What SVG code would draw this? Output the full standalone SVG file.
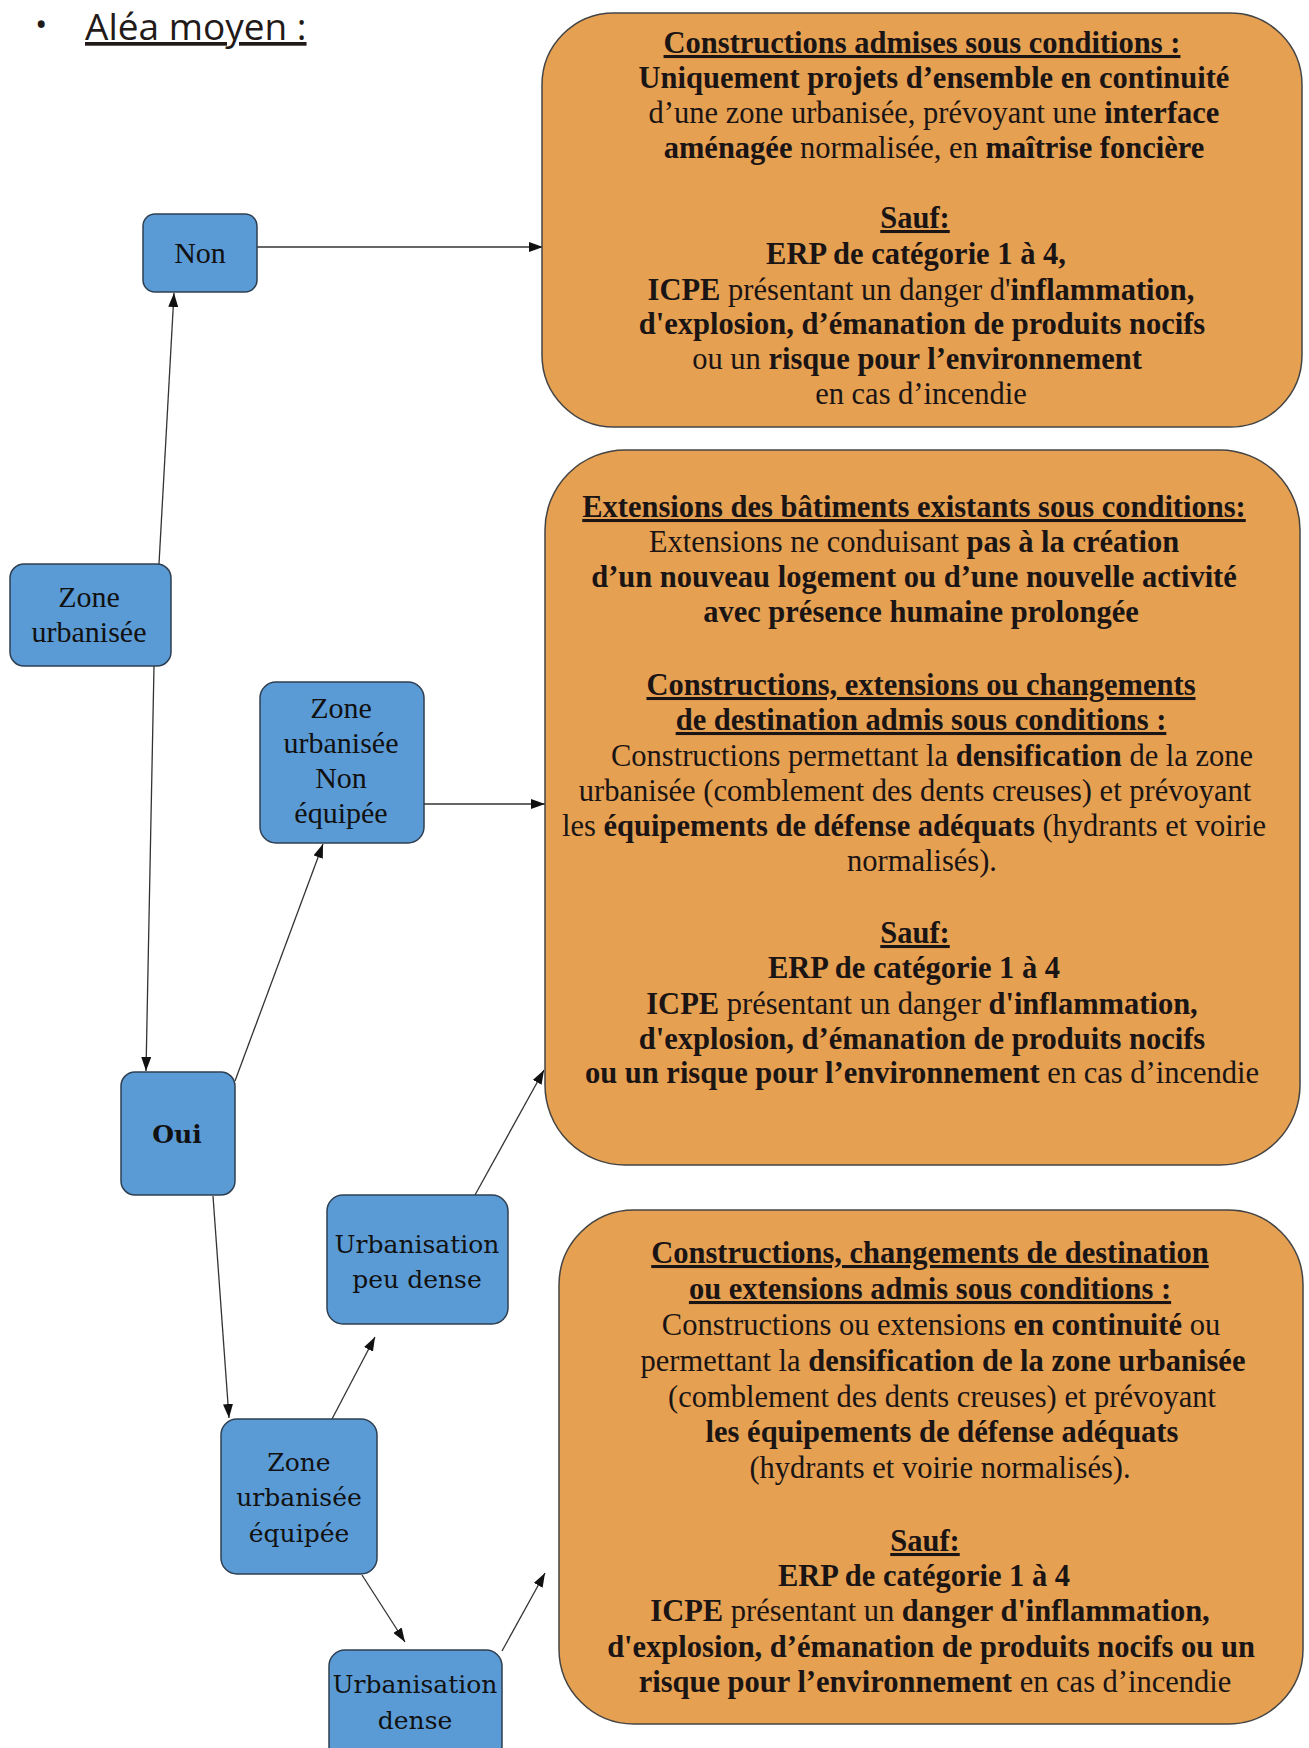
<svg xmlns="http://www.w3.org/2000/svg" width="1309" height="1748" viewBox="0 0 1309 1748">
<defs>
<style>
.t{font-family:"Liberation Serif","Times New Roman",serif;font-size:30.5px;fill:#1a1414;text-anchor:middle}
.b{font-weight:bold}
.u{text-decoration:underline}
.node rect{fill:#5b9bd5;stroke:#2e3f52;stroke-width:1.5}
.nt{font-family:"Liberation Serif","Times New Roman",serif;font-size:30px;text-anchor:middle;fill:#111}
.nt2{font-family:"DejaVu Serif",serif;font-size:25px;text-anchor:middle;fill:#111}
.box{fill:#e5a052;stroke:#444;stroke-width:1.5}
.c{stroke:#333;stroke-width:1.3;fill:none;marker-end:url(#ah)}
.title{font-family:"Open Sans","DejaVu Sans",sans-serif;font-size:37px;fill:#221a18}
</style>
<marker id="ah" viewBox="0 0 14 10" refX="14" refY="5" markerWidth="14" markerHeight="10" markerUnits="userSpaceOnUse" orient="auto"><path d="M0,0 L14,5 L0,10 z" fill="#111"/></marker>
</defs>
<rect width="1309" height="1748" fill="#ffffff"/>

<g id="title">
<text class="title" y="40"><tspan x="35" font-size="33" dy="-4">•</tspan><tspan x="85" dy="4" class="u">Aléa moyen :</tspan></text>
</g>

<g id="connectors">
<path class="c" d="M159,564 L174,293"/>
<path class="c" d="M257,247 L543,247"/>
<path class="c" d="M154,666 L146,1071"/>
<path class="c" d="M235,1081 L323,844"/>
<path class="c" d="M424,804 L545,804"/>
<path class="c" d="M213,1196 L229,1418"/>
<path class="c" d="M332,1419 L375,1337"/>
<path class="c" d="M475,1195 L544,1070"/>
<path class="c" d="M362,1575 L405,1642"/>
<path class="c" d="M502,1651 L545,1573"/>
</g>

<g id="box1">
<rect class="box" x="542" y="13" width="760" height="414" rx="72" ry="72"/>
<text class="t" y="53" x="922"><tspan class="b u">Constructions admises sous conditions :</tspan></text>
<text class="t b" y="88" x="934">Uniquement projets d’ensemble en continuité</text>
<text class="t" y="123" x="934">d’une zone urbanisée, prévoyant une <tspan class="b">interface</tspan></text>
<text class="t" y="158" x="934"><tspan class="b">aménagée</tspan> normalisée, en <tspan class="b">maîtrise foncière</tspan></text>
<text class="t b u" y="228" x="915">Sauf:</text>
<text class="t b" y="264" x="916">ERP de catégorie 1 à 4,</text>
<text class="t" y="300" x="921"><tspan class="b">ICPE</tspan> présentant un danger d'<tspan class="b">inflammation,</tspan></text>
<text class="t b" y="334" x="922">d'explosion, d’émanation de produits nocifs</text>
<text class="t" y="369" x="917">ou un <tspan class="b">risque pour l’environnement</tspan></text>
<text class="t" y="404" x="921">en cas d’incendie</text>
</g>

<g id="box2">
<rect class="box" x="545" y="450" width="755" height="715" rx="80" ry="80"/>
<text class="t b u" y="517" x="914">Extensions des bâtiments existants sous conditions:</text>
<text class="t" y="552" x="914">Extensions ne conduisant <tspan class="b">pas à la création</tspan></text>
<text class="t b" y="587" x="914">d’un nouveau logement ou d’une nouvelle activité</text>
<text class="t b" y="622" x="921">avec présence humaine prolongée</text>
<text class="t b u" y="695" x="921">Constructions, extensions ou changements</text>
<text class="t b u" y="730" x="921">de destination admis sous conditions :</text>
<text class="t" y="766" x="932">Constructions permettant la <tspan class="b">densification</tspan> de la zone</text>
<text class="t" y="801" x="915">urbanisée (comblement des dents creuses)  et prévoyant</text>
<text class="t" y="836" x="914">les <tspan class="b">équipements de défense adéquats</tspan> (hydrants et voirie</text>
<text class="t" y="871" x="922">normalisés).</text>
<text class="t b u" y="943" x="915">Sauf:</text>
<text class="t b" y="978" x="914">ERP de catégorie 1 à 4</text>
<text class="t" y="1014" x="922"><tspan class="b">ICPE</tspan> présentant un danger <tspan class="b">d'inflammation,</tspan></text>
<text class="t b" y="1049" x="922">d'explosion, d’émanation de produits nocifs</text>
<text class="t" y="1083" x="922"><tspan class="b">ou un risque pour l’environnement</tspan> en cas d’incendie</text>
</g>

<g id="box3">
<rect class="box" x="559" y="1210" width="744" height="514" rx="75" ry="75"/>
<text class="t b u" y="1263" x="930">Constructions, changements de destination</text>
<text class="t b u" y="1299" x="930">ou extensions admis sous conditions :</text>
<text class="t" y="1335" x="941">Constructions ou extensions <tspan class="b">en continuité</tspan> ou</text>
<text class="t" y="1371" x="943">permettant la <tspan class="b">densification de la zone urbanisée</tspan></text>
<text class="t" y="1407" x="942">(comblement des dents creuses) et prévoyant</text>
<text class="t b" y="1442" x="942">les équipements de défense adéquats</text>
<text class="t" y="1478" x="940">(hydrants et voirie normalisés).</text>
<text class="t b u" y="1551" x="925">Sauf:</text>
<text class="t b" y="1586" x="924">ERP de catégorie 1 à 4</text>
<text class="t" y="1621" x="930"><tspan class="b">ICPE</tspan> présentant un <tspan class="b">danger d'inflammation,</tspan></text>
<text class="t b" y="1657" x="931">d'explosion, d’émanation de produits nocifs ou un</text>
<text class="t" y="1692" x="935"><tspan class="b">risque pour l’environnement</tspan> en cas d’incendie</text>
</g>

<g id="n-non" class="node">
<rect x="143" y="214" width="114" height="78" rx="12"/>
<text class="nt" x="200" y="263">Non</text>
</g>
<g id="n-zone-urbanisee" class="node">
<rect x="10" y="564" width="161" height="102" rx="14"/>
<text class="nt" x="89" y="607">Zone</text>
<text class="nt" x="89" y="642">urbanisée</text>
</g>
<g id="n-zone-non-equipee" class="node">
<rect x="260" y="682" width="164" height="161" rx="16"/>
<text class="nt" x="341" y="718">Zone</text>
<text class="nt" x="341" y="753">urbanisée</text>
<text class="nt" x="341" y="788">Non</text>
<text class="nt" x="341" y="823">équipée</text>
</g>
<g id="n-oui" class="node">
<rect x="121" y="1072" width="114" height="123" rx="14"/>
<text class="nt2 b" x="177" y="1143">Oui</text>
</g>
<g id="n-peu-dense" class="node">
<rect x="327" y="1195" width="181" height="129" rx="16"/>
<text class="nt2" x="417" y="1253">Urbanisation</text>
<text class="nt2" x="417" y="1288">peu dense</text>
</g>
<g id="n-zone-equipee" class="node">
<rect x="221" y="1419" width="156" height="155" rx="16"/>
<text class="nt2" x="299" y="1471">Zone</text>
<text class="nt2" x="299" y="1506">urbanisée</text>
<text class="nt2" x="299" y="1542">équipée</text>
</g>
<g id="n-dense" class="node">
<rect x="329" y="1650" width="173" height="112" rx="16"/>
<text class="nt2" x="415" y="1693">Urbanisation</text>
<text class="nt2" x="415" y="1729">dense</text>
</g>
</svg>
